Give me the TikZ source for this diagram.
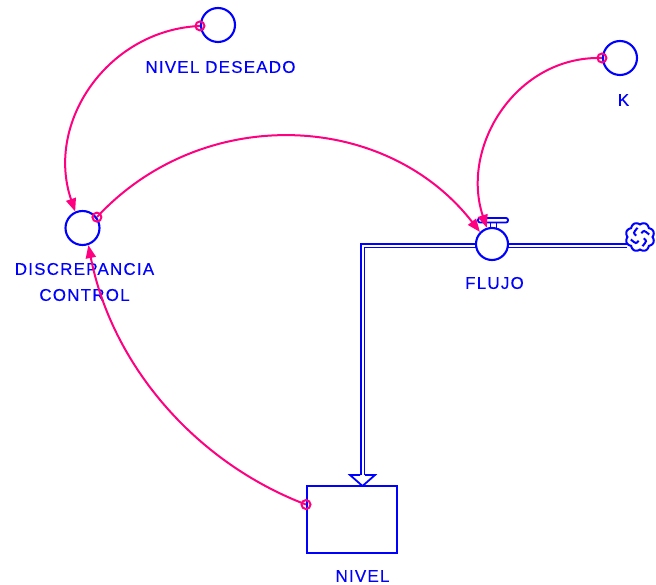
\documentclass[tikz,border=0pt]{standalone}
\usepackage{fontspec}
\newfontfamily\lblfont[LetterSpace=7, FakeBold=0.2]{Liberation Sans}
\usetikzlibrary{arrows.meta}
\definecolor{sdblue}{RGB}{0,0,255}
\definecolor{linkc}{RGB}{255,0,128}
\begin{document}
\begin{tikzpicture}[x=1pt,y=-1pt,
  aux/.style={circle, draw=sdblue, line width=2.1pt, minimum size=34pt, inner sep=0pt, fill=white},
  valve/.style={circle, draw=sdblue, line width=2.1pt, minimum size=32pt, inner sep=0pt, fill=white},
  stock/.style={rectangle, draw=sdblue, line width=2pt, minimum width=90pt, minimum height=67pt, inner sep=0pt, fill=white},
  lbl/.style={text=sdblue, font=\lblfont\fontsize{17}{20}\selectfont, inner sep=0pt},
  link/.style={draw=linkc, line width=2pt, -{Triangle[length=13pt,width=10pt]}},
  tailc/.style={draw=linkc, line width=2pt},
  pipe/.style={draw=sdblue, double=white, double distance=2pt, line width=1.7pt},
  thin/.style={draw=sdblue, line width=1.8pt}
]
\useasboundingbox (0,0) rectangle (656,585);

% pipe
\coordinate (cl) at (640,237);
\coordinate (pend) at (627,245.75);
\coordinate (corner) at (362.5,245.75);
\coordinate (pdown) at (362.5,475);
\draw[pipe] (pend) -- (corner) -- (pdown);
% pipe arrowhead
\fill[white] (350,475) -- (375,475) -- (362.5,486) -- cycle;
\draw[thin, line join=miter] (360,475) -- (350,475) -- (362.5,486) -- (375,475) -- (365,475);

% cloud
\draw[thin, line width=2pt, fill=white] plot[smooth, samples=121, domain=0:360, variable=\t]
  ({640+(12.5+2*abs(sin(4*\t)))*cos(\t)}, {237+(12.5+2*abs(sin(4*\t)))*sin(\t)}) -- cycle;
\foreach \a in {20,110,200,290}{
  \draw[thin, line width=2pt] ({640+4*cos(\a)},{237+4*sin(\a)}) .. controls ({640+8*cos(\a+10)},{237+8*sin(\a+10)}) .. ({640+9.5*cos(\a+55)},{237+9.5*sin(\a+55)});
}

% valve
\draw[thin, fill=white] (490.5,222) rectangle (496.5,230);
\draw[thin, fill=white, rounded corners=2pt] (478,218) rectangle (508,222.5);
\node[valve] (v) at (492,244) {};

% nodes
\node[aux] (nd) at (218,25) {};
\node[aux] (k) at (620,58) {};
\node[aux] (dc) at (82.5,228) {};
\node[stock] (box) at (352,519.5) {};

% labels
\node[lbl] (tnd) at (220.5,67) {NIVEL DESEADO};
\node[lbl] (tk) at (623.5,100) {K};
\node[lbl] (tdc1) at (84.5,269) {DISCREPANCIA};
\node[lbl] (tdc2) at (84.5,295) {CONTROL};
\node[lbl] (tfl) at (494.5,283) {FLUJO};
\node[lbl] (tnv) at (362.5,576) {NIVEL};

% links
\draw[link] (nd.183) .. controls (107.7,30.1) and (44.9,122.6) .. (dc.114);
\draw[link] (dc.37) .. controls (201.6,104) and (384.9,110) .. (v.135);
\draw[link] (k.180) .. controls (516,55.7) and (460,146.7) .. (v.108);
\draw[link] (box.162) .. controls (194,461.8) and (111.5,363.7) .. (dc.-71);

% link tails
\draw[tailc] (nd.183) circle[radius=4.5pt];
\draw[tailc] (k.180) circle[radius=4.5pt];
\draw[tailc] (dc.37) circle[radius=4.5pt];
\draw[tailc] (box.162) circle[radius=4.5pt];
\end{tikzpicture}
\end{document}
